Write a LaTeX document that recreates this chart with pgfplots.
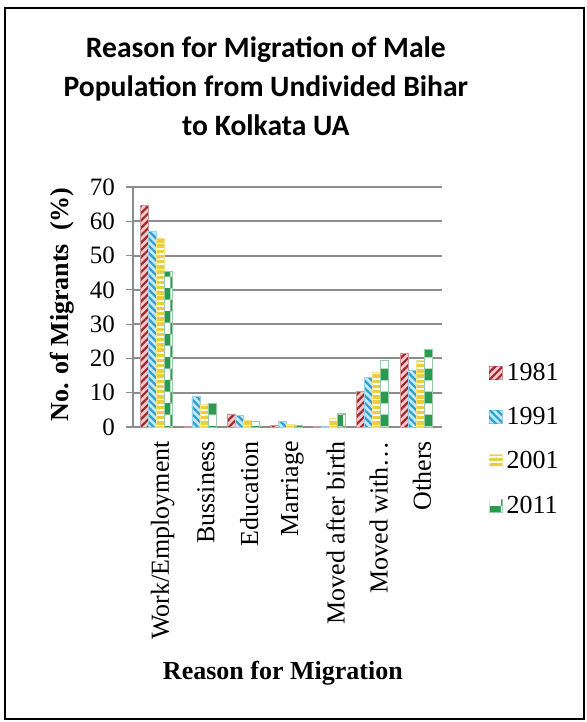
\documentclass[border=0pt]{standalone}
\usepackage{pgfplots}
\pgfplotsset{compat=1.18}
\usepackage{fontspec}
\setmainfont{Liberation Serif}
\newfontfamily\titlefont{Carlito}
\usetikzlibrary{patterns,patterns.meta}
\definecolor{cRed}{HTML}{9E2A30}
\definecolor{cRedBg}{HTML}{F6C9CB}
\definecolor{cBlue}{HTML}{2E9FD2}
\definecolor{cBlueBg}{HTML}{C4E8F6}
\definecolor{cYel}{HTML}{EBCF3A}
\definecolor{cGrn}{HTML}{2A9A4E}
\definecolor{gridc}{HTML}{8C8C8C}
\begin{document}
\begin{tikzpicture}
\path (0,0) rectangle (293.5pt,-361pt);
\draw[line width=1pt] (2.5pt,-4pt) rectangle (292pt,-359.5pt);
\begin{axis}[
  at={(66.5pt,-213.5pt)}, anchor=south west,
  scale only axis, width=154.5pt, height=120pt,
  xmin=-0.55, xmax=6.6, ymin=0, ymax=70,
  ytick={0,10,...,70},
  xtick={0,...,6},
  xticklabels={Work/Employment,Bussiness,Education,Marriage,Moved after birth,Moved with\ldots,Others},
  xticklabel style={rotate=90, anchor=east, font=\fontsize{13}{15}\selectfont, yshift=-3pt},
  yticklabel style={font=\fontsize{12.5}{14}\selectfont, xshift=-2pt},
  /pgf/number format/assume math mode=true,
  axis x line*=bottom, axis y line*=left,
  x axis line style={gridc, line width=1pt, -},
  y axis line style={gridc, line width=1pt, -},
  major x tick style={draw=none},
  major y tick style={gridc, line width=0.6pt},
  tick align=outside, major tick length=3.5pt,
  ymajorgrids, grid style={gridc, line width=1pt},
  ybar=0pt, bar width=4pt,
  ylabel={\bfseries No. of Migrants\ \ (\%)},
  ylabel style={at={(axis description cs:-0.23,0.51)}, anchor=center, rotate=0, font=\fontsize{13}{15}\selectfont},
  xlabel={\bfseries Reason\ for Migration},
  xlabel style={at={(axis description cs:0.485,-1.025)}, anchor=center, font=\fontsize{13}{15}\selectfont},
  title={Reason for Migration of Male\\Population from Undivided Bihar\\to Kolkata UA},
  title style={at={(axis description cs:0.43,1.37)}, anchor=center, align=center, font=\titlefont\bfseries\fontsize{14.8}{19.5}\selectfont},
  legend style={at={(axis description cs:1.15,0.285)}, anchor=north west, draw=none, fill=none,
    font=\fontsize{13}{15}\selectfont, row sep=8pt, inner sep=0pt},
  legend cell align=left,
  legend image code/.code={\draw[#1, draw=none] (0pt,-3pt) rectangle (6.5pt,3.5pt);},
]
\addplot[draw=cRed!50, preaction={fill=cRedBg}, pattern={Lines[angle=45,distance=2.6pt,line width=1.1pt]}, pattern color=cRed]
  coordinates {(0,64.5) (1,0.2) (2,3.8) (3,0.5) (4,0.1) (5,10.5) (6,21.5)};
\addplot[draw=cBlue!50, preaction={fill=cBlueBg}, pattern={Lines[angle=-45,distance=2.6pt,line width=1.1pt]}, pattern color=cBlue]
  coordinates {(0,57) (1,8.8) (2,3.3) (3,1.5) (4,0.3) (5,14.5) (6,16.5)};
\addplot[draw=cYel!60, preaction={fill=cYel}, pattern={Lines[angle=0,distance=2.6pt,line width=0.9pt]}, pattern color=white]
  coordinates {(0,55) (1,6.5) (2,2) (3,0.8) (4,2.5) (5,16) (6,19.3)};
\addplot[draw=cGrn!50, preaction={fill=cGrn}, pattern=checkerboard, pattern color=white]
  coordinates {(0,45.5) (1,7) (2,1.6) (3,0.4) (4,4) (5,19.5) (6,22.5)};
\legend{1981,1991,2001,2011}
\end{axis}
\end{tikzpicture}
\end{document}
